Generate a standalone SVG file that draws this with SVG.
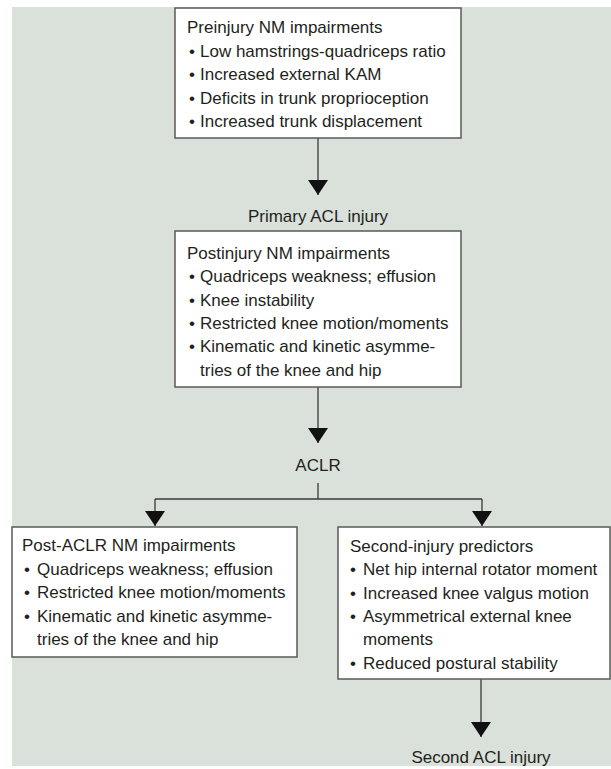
<svg xmlns="http://www.w3.org/2000/svg" width="611" height="769" viewBox="0 0 611 769">
  <style>
    .bg { fill: #dae0da; }
    .box { fill: #ffffff; stroke: #5a5a5a; stroke-width: 1.5; }
    .t { font-family: "Liberation Sans", Arial, sans-serif; font-size: 17px; fill: #231f20; }
    .c { text-anchor: middle; }
    .ln { fill: none; stroke: #3a3a3a; stroke-width: 1.3; }
  </style>
  <defs>
    <marker id="ah" viewBox="0 0 15 20" refX="15" refY="10" markerWidth="15" markerHeight="20" markerUnits="userSpaceOnUse" orient="auto">
      <path d="M0,0 L15,10 L0,20 Z" fill="#111111"/>
    </marker>
  </defs>
  <rect x="0" y="0" width="611" height="769" fill="#ffffff"/>
  <rect class="bg" x="12" y="7" width="599" height="759"/>

  <g id="connectors">
    <path class="ln" d="M318,138 V195" marker-end="url(#ah)"/>
    <path class="ln" d="M318,387 V443" marker-end="url(#ah)"/>
    <path class="ln" d="M318,483 V499"/>
    <path class="ln" d="M155,499 H482"/>
    <path class="ln" d="M155,499 V526" marker-end="url(#ah)"/>
    <path class="ln" d="M482,499 V526" marker-end="url(#ah)"/>
    <path class="ln" d="M481,679 V737" marker-end="url(#ah)"/>
  </g>

  <g id="preinjury">
    <rect class="box" x="175" y="8" width="286" height="130"/>
    <text class="t" x="187" y="33">Preinjury NM impairments</text>
    <text class="t" x="189" y="56.5">•</text><text class="t" x="200" y="56.5">Low hamstrings-quadriceps ratio</text>
    <text class="t" x="189" y="80">•</text><text class="t" x="200" y="80">Increased external KAM</text>
    <text class="t" x="189" y="103.5">•</text><text class="t" x="200" y="103.5">Deficits in trunk proprioception</text>
    <text class="t" x="189" y="127">•</text><text class="t" x="200" y="127">Increased trunk displacement</text>
  </g>

  <g id="primary-acl-injury">
    <text class="t c" x="318" y="222">Primary ACL injury</text>
  </g>

  <g id="postinjury">
    <rect class="box" x="175" y="231" width="286" height="156"/>
    <text class="t" x="187" y="259">Postinjury NM impairments</text>
    <text class="t" x="189" y="282.3">•</text><text class="t" x="200" y="282.3">Quadriceps weakness; effusion</text>
    <text class="t" x="189" y="305.6">•</text><text class="t" x="200" y="305.6">Knee instability</text>
    <text class="t" x="189" y="329">•</text><text class="t" x="200" y="329">Restricted knee motion/moments</text>
    <text class="t" x="189" y="352.2">•</text><text class="t" x="200" y="352.2">Kinematic and kinetic asymme-</text>
    <text class="t" x="200" y="375.5">tries of the knee and hip</text>
  </g>

  <g id="aclr">
    <text class="t c" x="318" y="471">ACLR</text>
  </g>

  <g id="post-aclr">
    <rect class="box" x="12" y="527" width="285" height="130"/>
    <text class="t" x="22" y="551">Post-ACLR NM impairments</text>
    <text class="t" x="24" y="574.5">•</text><text class="t" x="37" y="574.5">Quadriceps weakness; effusion</text>
    <text class="t" x="24" y="598">•</text><text class="t" x="37" y="598">Restricted knee motion/moments</text>
    <text class="t" x="24" y="621.5">•</text><text class="t" x="37" y="621.5">Kinematic and kinetic asymme-</text>
    <text class="t" x="37" y="645">tries of the knee and hip</text>
  </g>

  <g id="second-injury-predictors">
    <rect class="box" x="338" y="527" width="272" height="152"/>
    <text class="t" x="350" y="552">Second-injury predictors</text>
    <text class="t" x="350" y="575.3">•</text><text class="t" x="363" y="575.3">Net hip internal rotator moment</text>
    <text class="t" x="350" y="598.6">•</text><text class="t" x="363" y="598.6">Increased knee valgus motion</text>
    <text class="t" x="350" y="622">•</text><text class="t" x="363" y="622">Asymmetrical external knee</text>
    <text class="t" x="363" y="645.3">moments</text>
    <text class="t" x="350" y="668.6">•</text><text class="t" x="363" y="668.6">Reduced postural stability</text>
  </g>

  <g id="second-acl-injury">
    <text class="t c" x="481" y="763">Second ACL injury</text>
  </g>
</svg>
